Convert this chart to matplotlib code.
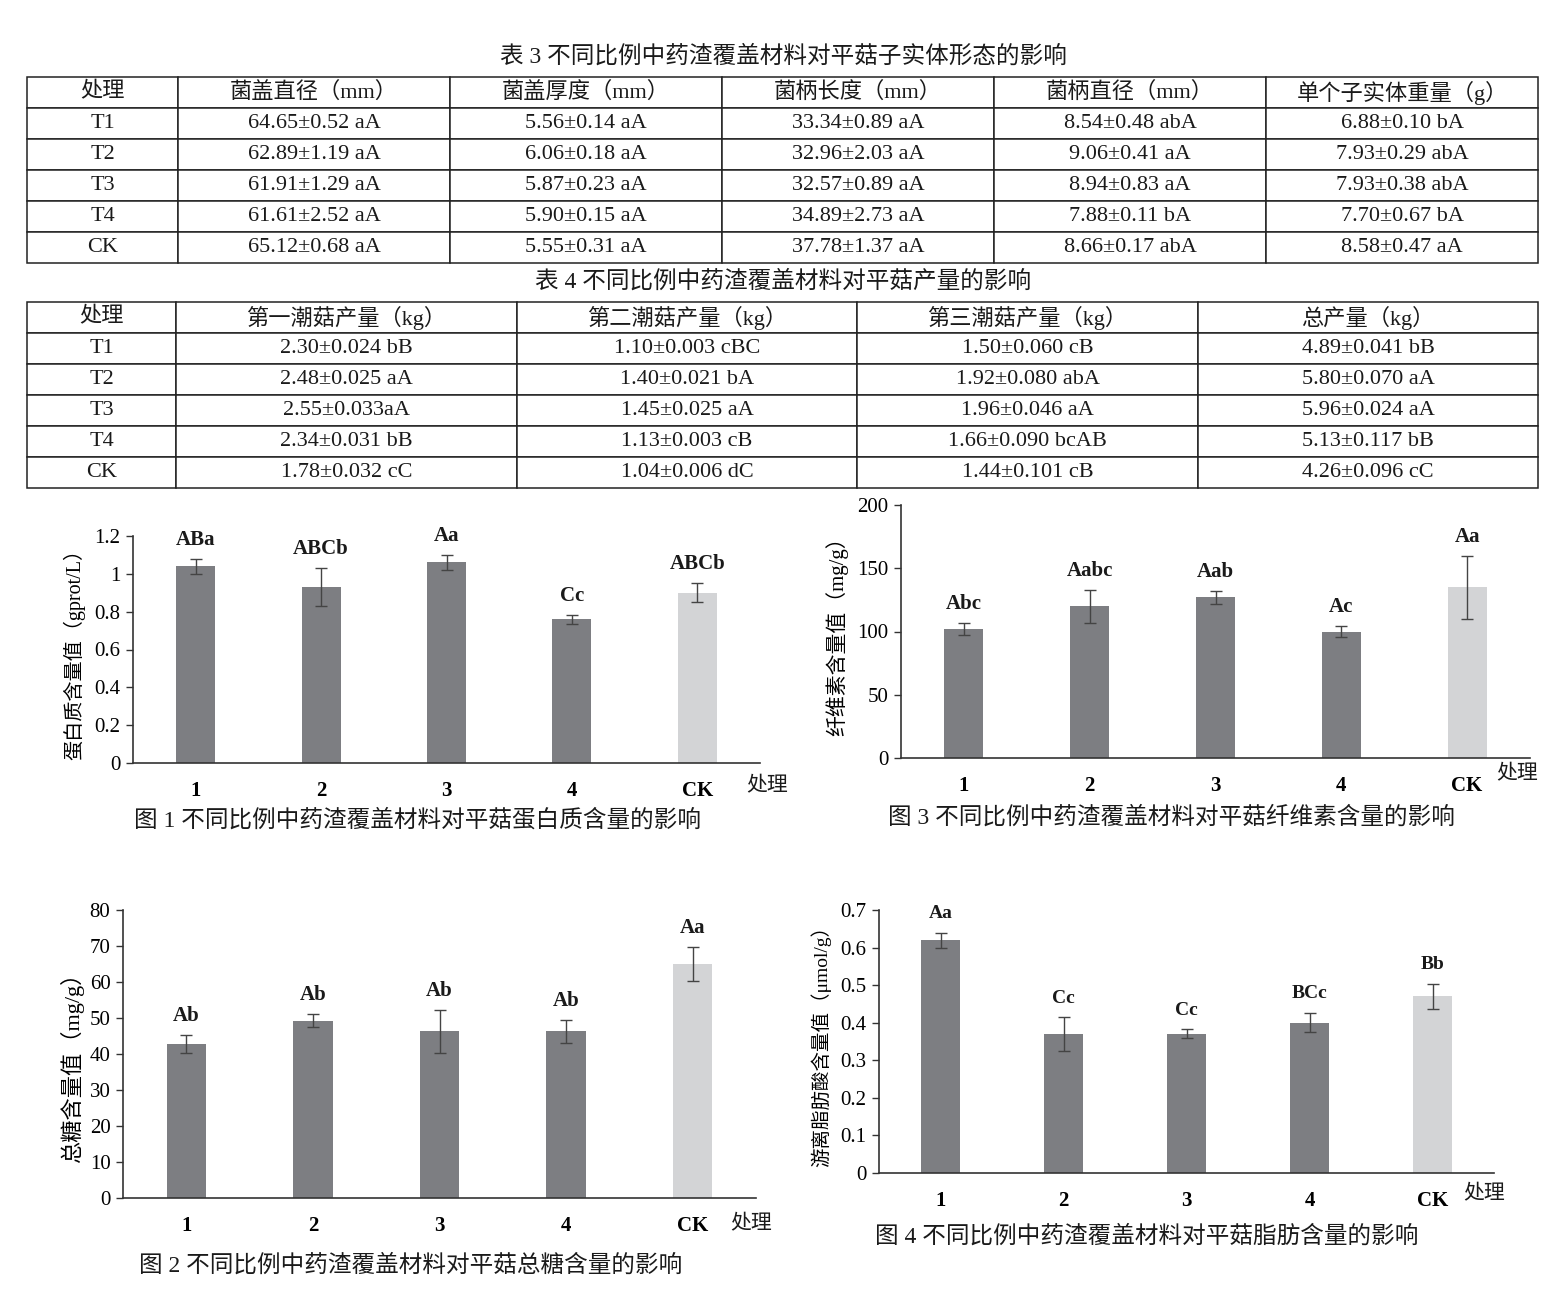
import matplotlib
matplotlib.use('Agg')
import matplotlib.pyplot as plt

FAM = ['Liberation Serif', 'Noto Sans CJK SC']
plt.rcParams['font.family'] = FAM
plt.rcParams['text.color'] = '#1a1a1a'

W, H = 1545, 1291

# ---------------- Table 3 data ----------------
t3_title = '表 3 不同比例中药渣覆盖材料对平菇子实体形态的影响'
t3_header = ['处理', '菌盖直径（mm）', '菌盖厚度（mm）', '菌柄长度（mm）', '菌柄直径（mm）', '单个子实体重量（g）']
treatments = ['T1', 'T2', 'T3', 'T4', 'CK']
cap_diameter = ['64.65±0.52 aA', '62.89±1.19 aA', '61.91±1.29 aA', '61.61±2.52 aA', '65.12±0.68 aA']
cap_thickness = ['5.56±0.14 aA', '6.06±0.18 aA', '5.87±0.23 aA', '5.90±0.15 aA', '5.55±0.31 aA']
stipe_length = ['33.34±0.89 aA', '32.96±2.03 aA', '32.57±0.89 aA', '34.89±2.73 aA', '37.78±1.37 aA']
stipe_diameter = ['8.54±0.48 abA', '9.06±0.41 aA', '8.94±0.83 aA', '7.88±0.11 bA', '8.66±0.17 abA']
single_weight = ['6.88±0.10 bA', '7.93±0.29 abA', '7.93±0.38 abA', '7.70±0.67 bA', '8.58±0.47 aA']

# ---------------- Table 4 data ----------------
t4_title = '表 4 不同比例中药渣覆盖材料对平菇产量的影响'
t4_header = ['处理', '第一潮菇产量（kg）', '第二潮菇产量（kg）', '第三潮菇产量（kg）', '总产量（kg）']
flush1 = ['2.30±0.024 bB', '2.48±0.025 aA', '2.55±0.033aA', '2.34±0.031 bB', '1.78±0.032 cC']
flush2 = ['1.10±0.003 cBC', '1.40±0.021 bA', '1.45±0.025 aA', '1.13±0.003 cB', '1.04±0.006 dC']
flush3 = ['1.50±0.060 cB', '1.92±0.080 abA', '1.96±0.046 aA', '1.66±0.090 bcAB', '1.44±0.101 cB']
total_yield = ['4.89±0.041 bB', '5.80±0.070 aA', '5.96±0.024 aA', '5.13±0.117 bB', '4.26±0.096 cC']

# ---------------- Figure data ----------------
groups = ['1', '2', '3', '4', 'CK']

protein = [1.04, 0.93, 1.06, 0.76, 0.90]
protein_err = [0.04, 0.10, 0.04, 0.025, 0.05]
protein_letters = ['ABa', 'ABCb', 'Aa', 'Cc', 'ABCb']
protein_ticks = [0, 0.2, 0.4, 0.6, 0.8, 1.0, 1.2]
protein_ticklabels = ['0', '0.2', '0.4', '0.6', '0.8', '1', '1.2']

cellulose = [102, 120, 127, 100, 135]
cellulose_err = [4.5, 13, 5, 4.5, 25]
cellulose_letters = ['Abc', 'Aabc', 'Aab', 'Ac', 'Aa']
cellulose_ticks = [0, 50, 100, 150, 200]
cellulose_ticklabels = ['0', '50', '100', '150', '200']

sugar = [42.7, 49.3, 46.3, 46.3, 65.0]
sugar_err = [2.5, 1.8, 5.9, 3.2, 4.8]
sugar_letters = ['Ab', 'Ab', 'Ab', 'Ab', 'Aa']
sugar_ticks = [0, 10, 20, 30, 40, 50, 60, 70, 80]
sugar_ticklabels = ['0', '10', '20', '30', '40', '50', '60', '70', '80']

fat = [0.62, 0.37, 0.37, 0.40, 0.47]
fat_err = [0.02, 0.045, 0.012, 0.026, 0.034]
fat_letters = ['Aa', 'Cc', 'Cc', 'BCc', 'Bb']
fat_ticks = [0, 0.1, 0.2, 0.3, 0.4, 0.5, 0.6, 0.7]
fat_ticklabels = ['0', '0.1', '0.2', '0.3', '0.4', '0.5', '0.6', '0.7']

DARK = '#7d7e82'
LIGHT = '#d3d4d6'
bar_colors = [DARK, DARK, DARK, DARK, LIGHT]

fig = plt.figure(figsize=(W / 100, H / 100), dpi=100)


def px_rect(x0, y0, x1, y1):
    return [x0 / W, 1 - y1 / H, (x1 - x0) / W, (y1 - y0) / H]


def draw_table(rect, header, columns, widths, fontsize=16):
    ax = fig.add_axes(rect)
    ax.axis('off')
    rows = [list(r) for r in zip(*columns)]
    tot = float(sum(widths))
    tbl = ax.table(cellText=rows, colLabels=header, colWidths=[w / tot for w in widths],
                   cellLoc='center', bbox=[0, 0, 1, 1])
    tbl.auto_set_font_size(False)
    tbl.set_fontsize(fontsize)
    for (r, c), cell in tbl.get_celld().items():
        cell.set_linewidth(1.1)
        cell.set_edgecolor('#222222')
        cell.get_text().set_color('#1a1a1a')
        cell.get_text().set_fontfamily(FAM)
    return ax


draw_table(px_rect(27, 77, 1538, 263), t3_header,
           [treatments, cap_diameter, cap_thickness, stipe_length, stipe_diameter, single_weight],
           [151, 272, 272, 272, 272, 272])
fig.text(783 / W, 1 - 56 / H, t3_title, ha='center', va='center', fontsize=17)

draw_table(px_rect(27, 302, 1538, 488), t4_header,
           [treatments, flush1, flush2, flush3, total_yield],
           [149, 341, 340, 341, 340])
fig.text(783 / W, 1 - 281 / H, t4_title, ha='center', va='center', fontsize=17)


def bar_chart(rect, vals, errs, letters, ticks, ticklabels, ylabel, ylab_pos,
              caption, cap_pos, chuli_pos, ylab_size=14, letter_size=15):
    ax = fig.add_axes(rect)
    x = list(range(len(groups)))
    ax.bar(x, vals, width=0.31, color=bar_colors, zorder=2)
    ax.errorbar(x, vals, yerr=errs, fmt='none', ecolor='#444444', elinewidth=1.0,
                capsize=4, capthick=1.0, zorder=3)
    for xi, v, e, lab in zip(x, vals, errs, letters):
        ax.annotate(lab, xy=(xi, v + e), xytext=(0, 19), textcoords='offset pixels',
                    ha='center', va='center', fontsize=letter_size, fontweight='bold')
    ax.set_xlim(-0.5, len(groups) - 0.5)
    ax.set_ylim(ticks[0], ticks[-1])
    ax.set_yticks(ticks)
    ax.set_yticklabels(ticklabels, fontsize=15)
    ax.set_xticks(x)
    ax.set_xticklabels(groups, fontsize=15, fontweight='bold')
    ax.tick_params(axis='x', length=0, pad=13)
    ax.tick_params(axis='y', length=5, width=1.0, color='#333333', direction='out', pad=4)
    for s in ['top', 'right']:
        ax.spines[s].set_visible(False)
    for s in ['left', 'bottom']:
        ax.spines[s].set_color('#333333')
        ax.spines[s].set_linewidth(1.2)
    ax.set_ylabel(ylabel, fontsize=ylab_size)
    ax.yaxis.set_label_coords(*ylab_pos)
    ax.text(chuli_pos[0], chuli_pos[1], '处理', transform=ax.transAxes,
            ha='left', va='center', fontsize=15)
    fig.text(cap_pos[0] / W, 1 - cap_pos[1] / H, caption, ha='center', va='center', fontsize=17)
    return ax


# Figure 1 (protein)
bar_chart(px_rect(133, 536, 760, 763), protein, protein_err, protein_letters,
          protein_ticks, protein_ticklabels,
          '蛋白质含量值（gprot/L）', (-0.076, 0.5),
          '图 1 不同比例中药渣覆盖材料对平菇蛋白质含量的影响', (418, 820),
          (0.978, -0.106), ylab_size=14.5)

# Figure 3 (cellulose)
bar_chart(px_rect(901, 505, 1530, 758), cellulose, cellulose_err, cellulose_letters,
          cellulose_ticks, cellulose_ticklabels,
          '纤维素含量值（mg/g）', (-0.084, 0.5),
          '图 3 不同比例中药渣覆盖材料对平菇纤维素含量的影响', (1171, 817),
          (0.946, -0.067), ylab_size=15)

# Figure 2 (sugar)
bar_chart(px_rect(123, 910, 756, 1198), sugar, sugar_err, sugar_letters,
          sugar_ticks, sugar_ticklabels,
          '总糖含量值（mg/g）', (-0.062, 0.47),
          '图 2 不同比例中药渣覆盖材料对平菇总糖含量的影响', (411, 1265),
          (0.96, -0.094), ylab_size=16)

# Figure 4 (free fatty acid)
bar_chart(px_rect(879, 910, 1494, 1173), fat, fat_err, fat_letters,
          fat_ticks, fat_ticklabels,
          '游离脂肪酸含量值（μmol/g）', (-0.078, 0.5),
          '图 4 不同比例中药渣覆盖材料对平菇脂肪含量的影响', (1147, 1236),
          (0.95, -0.084), ylab_size=14, letter_size=14)

fig.savefig('out.png', dpi=100, facecolor='white')
